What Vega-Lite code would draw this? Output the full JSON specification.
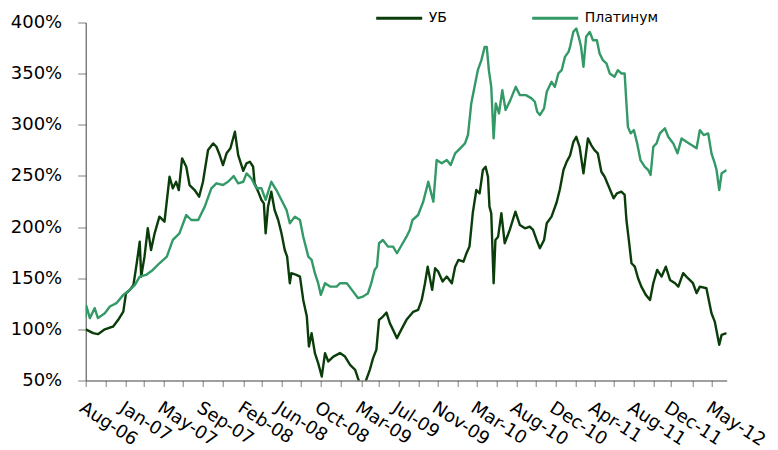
{
  "$schema": "https://vega.github.io/schema/vega-lite/v6.json",
  "width": 641,
  "height": 358,
  "autosize": {"type": "none"},
  "padding": {"left": 85.7, "top": 22.5, "right": 51.3, "bottom": 69.5},
  "config": {
    "view": {"stroke": null},
    "font": "DejaVu Sans"
  },
  "data": {
    "values": [
      {"d":"2006-08-20","s":"УБ","v":100},{"d":"2006-09-14","s":"УБ","v":96.3},{"d":"2006-09-30","s":"УБ","v":95.3},{"d":"2006-10-23","s":"УБ","v":100},{"d":"2006-11-09","s":"УБ","v":101.8},{"d":"2006-11-20","s":"УБ","v":102.7},{"d":"2006-12-07","s":"УБ","v":109.3},{"d":"2006-12-24","s":"УБ","v":117.4},{"d":"2007-01-02","s":"УБ","v":135.3},{"d":"2007-01-15","s":"УБ","v":138.6},{"d":"2007-01-27","s":"УБ","v":143.5},{"d":"2007-02-07","s":"УБ","v":164.6},{"d":"2007-02-17","s":"УБ","v":185.7},{"d":"2007-02-22","s":"УБ","v":151.6},{"d":"2007-03-05","s":"УБ","v":171},{"d":"2007-03-16","s":"УБ","v":198.8},{"d":"2007-03-27","s":"УБ","v":177.6},{"d":"2007-04-08","s":"УБ","v":193.9},{"d":"2007-04-24","s":"УБ","v":210.2},{"d":"2007-05-11","s":"УБ","v":205.3},{"d":"2007-05-28","s":"УБ","v":249.2},{"d":"2007-06-08","s":"УБ","v":237.9},{"d":"2007-06-19","s":"УБ","v":244.3},{"d":"2007-06-28","s":"УБ","v":236.2},{"d":"2007-07-09","s":"УБ","v":267.2},{"d":"2007-07-23","s":"УБ","v":259},{"d":"2007-08-03","s":"УБ","v":241.1},{"d":"2007-08-20","s":"УБ","v":236.2},{"d":"2007-09-04","s":"УБ","v":229.7},{"d":"2007-09-17","s":"УБ","v":244.3},{"d":"2007-10-04","s":"УБ","v":275.3},{"d":"2007-10-21","s":"УБ","v":281.8},{"d":"2007-11-01","s":"УБ","v":278.5},{"d":"2007-11-12","s":"УБ","v":270.4},{"d":"2007-11-23","s":"УБ","v":260.6},{"d":"2007-12-05","s":"УБ","v":272.1},{"d":"2007-12-18","s":"УБ","v":277},{"d":"2008-01-02","s":"УБ","v":293.2},{"d":"2008-01-13","s":"УБ","v":270.4},{"d":"2008-01-30","s":"УБ","v":255},{"d":"2008-02-10","s":"УБ","v":262.3},{"d":"2008-02-21","s":"УБ","v":263.9},{"d":"2008-03-03","s":"УБ","v":259},{"d":"2008-03-08","s":"УБ","v":242.8},{"d":"2008-03-20","s":"УБ","v":234.6},{"d":"2008-03-31","s":"УБ","v":226.5},{"d":"2008-04-08","s":"УБ","v":223.2},{"d":"2008-04-14","s":"УБ","v":193.9},{"d":"2008-04-22","s":"УБ","v":220},{"d":"2008-05-03","s":"УБ","v":234.6},{"d":"2008-05-14","s":"УБ","v":216.7},{"d":"2008-05-26","s":"УБ","v":206.9},{"d":"2008-06-06","s":"УБ","v":193.9},{"d":"2008-06-17","s":"УБ","v":177.6},{"d":"2008-06-25","s":"УБ","v":171.1},{"d":"2008-07-04","s":"УБ","v":145.1},{"d":"2008-07-09","s":"УБ","v":154.9},{"d":"2008-07-26","s":"УБ","v":153.2},{"d":"2008-08-07","s":"УБ","v":151.6},{"d":"2008-08-18","s":"УБ","v":128.8},{"d":"2008-08-30","s":"УБ","v":112.5},{"d":"2008-09-06","s":"УБ","v":83.2},{"d":"2008-09-15","s":"УБ","v":96.3},{"d":"2008-09-26","s":"УБ","v":76.8},{"d":"2008-10-07","s":"УБ","v":67},{"d":"2008-10-19","s":"УБ","v":53.9},{"d":"2008-10-30","s":"УБ","v":76.8},{"d":"2008-11-10","s":"УБ","v":68.6},{"d":"2008-11-27","s":"УБ","v":73.4},{"d":"2008-12-19","s":"УБ","v":76.8},{"d":"2009-01-05","s":"УБ","v":73.4},{"d":"2009-01-22","s":"УБ","v":65.3},{"d":"2009-02-08","s":"УБ","v":60.4},{"d":"2009-02-21","s":"УБ","v":49},{"d":"2009-03-06","s":"УБ","v":44.1},{"d":"2009-03-15","s":"УБ","v":49},{"d":"2009-03-29","s":"УБ","v":60.4},{"d":"2009-04-09","s":"УБ","v":71.9},{"d":"2009-04-20","s":"УБ","v":80},{"d":"2009-04-29","s":"УБ","v":109.3},{"d":"2009-05-12","s":"УБ","v":112.5},{"d":"2009-05-24","s":"УБ","v":116.4},{"d":"2009-06-04","s":"УБ","v":106.1},{"d":"2009-06-15","s":"УБ","v":99.5},{"d":"2009-06-28","s":"УБ","v":91.4},{"d":"2009-07-13","s":"УБ","v":100},{"d":"2009-07-30","s":"УБ","v":109.3},{"d":"2009-08-21","s":"УБ","v":117},{"d":"2009-09-07","s":"УБ","v":119},{"d":"2009-09-19","s":"УБ","v":128.8},{"d":"2009-09-30","s":"УБ","v":145.1},{"d":"2009-10-09","s":"УБ","v":161.3},{"d":"2009-10-24","s":"УБ","v":138.6},{"d":"2009-11-03","s":"УБ","v":159.8},{"d":"2009-11-13","s":"УБ","v":156.5},{"d":"2009-11-28","s":"УБ","v":146.7},{"d":"2009-12-12","s":"УБ","v":151.6},{"d":"2009-12-29","s":"УБ","v":145.1},{"d":"2010-01-09","s":"УБ","v":161.3},{"d":"2010-01-20","s":"УБ","v":167.9},{"d":"2010-02-06","s":"УБ","v":166.2},{"d":"2010-02-16","s":"УБ","v":174.4},{"d":"2010-02-26","s":"УБ","v":180.9},{"d":"2010-03-09","s":"УБ","v":213.5},{"d":"2010-03-21","s":"УБ","v":236.2},{"d":"2010-04-01","s":"УБ","v":233},{"d":"2010-04-12","s":"УБ","v":255.8},{"d":"2010-04-21","s":"УБ","v":259},{"d":"2010-04-29","s":"УБ","v":249.2},{"d":"2010-05-04","s":"УБ","v":220},{"d":"2010-05-10","s":"УБ","v":213.5},{"d":"2010-05-18","s":"УБ","v":145.1},{"d":"2010-05-24","s":"УБ","v":187.4},{"d":"2010-06-02","s":"УБ","v":190.6},{"d":"2010-06-13","s":"УБ","v":213.5},{"d":"2010-06-24","s":"УБ","v":184.2},{"d":"2010-07-11","s":"УБ","v":197.2},{"d":"2010-07-30","s":"УБ","v":215},{"d":"2010-08-14","s":"УБ","v":202},{"d":"2010-08-31","s":"УБ","v":198.8},{"d":"2010-09-16","s":"УБ","v":200.4},{"d":"2010-09-27","s":"УБ","v":197.2},{"d":"2010-10-09","s":"УБ","v":187.4},{"d":"2010-10-20","s":"УБ","v":179.3},{"d":"2010-11-03","s":"УБ","v":187.4},{"d":"2010-11-12","s":"УБ","v":203.7},{"d":"2010-11-28","s":"УБ","v":210.2},{"d":"2010-12-15","s":"УБ","v":224},{"d":"2010-12-26","s":"УБ","v":237},{"d":"2011-01-07","s":"УБ","v":255.8},{"d":"2011-01-18","s":"УБ","v":264},{"d":"2011-01-29","s":"УБ","v":270},{"d":"2011-02-09","s":"УБ","v":283},{"d":"2011-02-19","s":"УБ","v":288.3},{"d":"2011-03-02","s":"УБ","v":278.5},{"d":"2011-03-15","s":"УБ","v":252.5},{"d":"2011-03-30","s":"УБ","v":286.7},{"d":"2011-04-10","s":"УБ","v":280.2},{"d":"2011-04-21","s":"УБ","v":275.3},{"d":"2011-05-02","s":"УБ","v":272.1},{"d":"2011-05-14","s":"УБ","v":254.1},{"d":"2011-05-25","s":"УБ","v":249.2},{"d":"2011-06-08","s":"УБ","v":239.5},{"d":"2011-06-24","s":"УБ","v":228.1},{"d":"2011-07-05","s":"УБ","v":233},{"d":"2011-07-20","s":"УБ","v":234.6},{"d":"2011-07-31","s":"УБ","v":231.4},{"d":"2011-08-06","s":"УБ","v":206.9},{"d":"2011-08-14","s":"УБ","v":187.4},{"d":"2011-08-23","s":"УБ","v":164.6},{"d":"2011-09-03","s":"УБ","v":161.3},{"d":"2011-09-14","s":"УБ","v":150},{"d":"2011-09-25","s":"УБ","v":141.8},{"d":"2011-10-10","s":"УБ","v":133.7},{"d":"2011-10-24","s":"УБ","v":128.8},{"d":"2011-11-04","s":"УБ","v":145.1},{"d":"2011-11-17","s":"УБ","v":158.1},{"d":"2011-12-02","s":"УБ","v":151.6},{"d":"2011-12-16","s":"УБ","v":161.3},{"d":"2011-12-30","s":"УБ","v":148.3},{"d":"2012-01-16","s":"УБ","v":145.1},{"d":"2012-01-27","s":"УБ","v":141.8},{"d":"2012-02-12","s":"УБ","v":154.9},{"d":"2012-02-28","s":"УБ","v":150},{"d":"2012-03-16","s":"УБ","v":145.1},{"d":"2012-03-28","s":"УБ","v":135.4},{"d":"2012-04-08","s":"УБ","v":141.8},{"d":"2012-04-30","s":"УБ","v":140.2},{"d":"2012-05-17","s":"УБ","v":115.8},{"d":"2012-05-28","s":"УБ","v":107.6},{"d":"2012-06-12","s":"УБ","v":84.9},{"d":"2012-06-20","s":"УБ","v":94.6},{"d":"2012-07-07","s":"УБ","v":96.3},
      {"d":"2006-08-20","s":"Платинум","v":112},{"d":"2006-08-22","s":"Платинум","v":123},{"d":"2006-09-03","s":"Платинум","v":111},{"d":"2006-09-19","s":"Платинум","v":120.7},{"d":"2006-09-30","s":"Платинум","v":111},{"d":"2006-10-23","s":"Платинум","v":115.8},{"d":"2006-11-09","s":"Платинум","v":122.3},{"d":"2006-12-01","s":"Платинум","v":125.6},{"d":"2006-12-24","s":"Платинум","v":133.7},{"d":"2007-01-15","s":"Платинум","v":138.6},{"d":"2007-02-01","s":"Платинум","v":143.5},{"d":"2007-02-17","s":"Платинум","v":151.6},{"d":"2007-03-10","s":"Платинум","v":153.2},{"d":"2007-04-02","s":"Платинум","v":158.1},{"d":"2007-04-24","s":"Платинум","v":164.6},{"d":"2007-05-19","s":"Платинум","v":171.1},{"d":"2007-06-08","s":"Платинум","v":187.4},{"d":"2007-06-30","s":"Платинум","v":193.9},{"d":"2007-07-23","s":"Платинум","v":211.8},{"d":"2007-08-09","s":"Платинум","v":206.9},{"d":"2007-09-01","s":"Платинум","v":206.9},{"d":"2007-09-23","s":"Платинум","v":220},{"d":"2007-10-15","s":"Платинум","v":237.9},{"d":"2007-11-01","s":"Платинум","v":242.8},{"d":"2007-11-23","s":"Платинум","v":241.1},{"d":"2007-12-10","s":"Платинум","v":244.3},{"d":"2007-12-29","s":"Платинум","v":249.9},{"d":"2008-01-13","s":"Платинум","v":242.8},{"d":"2008-01-30","s":"Платинум","v":244.3},{"d":"2008-02-10","s":"Платинум","v":252.5},{"d":"2008-02-26","s":"Платинум","v":247.7},{"d":"2008-03-14","s":"Платинум","v":237.9},{"d":"2008-03-31","s":"Платинум","v":237.9},{"d":"2008-04-14","s":"Платинум","v":226.5},{"d":"2008-05-03","s":"Платинум","v":244.3},{"d":"2008-05-20","s":"Платинум","v":236.2},{"d":"2008-06-06","s":"Платинум","v":226.5},{"d":"2008-06-23","s":"Платинум","v":216.7},{"d":"2008-07-04","s":"Платинум","v":203.7},{"d":"2008-07-21","s":"Платинум","v":210.2},{"d":"2008-08-07","s":"Платинум","v":206.9},{"d":"2008-08-18","s":"Платинум","v":190.6},{"d":"2008-09-04","s":"Платинум","v":171.1},{"d":"2008-09-15","s":"Платинум","v":167.9},{"d":"2008-09-26","s":"Платинум","v":154.9},{"d":"2008-10-07","s":"Платинум","v":145.1},{"d":"2008-10-16","s":"Платинум","v":133.7},{"d":"2008-10-30","s":"Платинум","v":145.1},{"d":"2008-11-16","s":"Платинум","v":141.8},{"d":"2008-12-08","s":"Платинум","v":141.8},{"d":"2008-12-19","s":"Платинум","v":145.1},{"d":"2009-01-11","s":"Платинум","v":145.1},{"d":"2009-01-28","s":"Платинум","v":138.6},{"d":"2009-02-18","s":"Платинум","v":130.5},{"d":"2009-03-06","s":"Платинум","v":132},{"d":"2009-03-23","s":"Платинум","v":135.4},{"d":"2009-04-03","s":"Платинум","v":145.1},{"d":"2009-04-14","s":"Платинум","v":158.1},{"d":"2009-04-22","s":"Платинум","v":161.3},{"d":"2009-04-29","s":"Платинум","v":184.2},{"d":"2009-05-12","s":"Платинум","v":187.4},{"d":"2009-05-29","s":"Платинум","v":180.9},{"d":"2009-06-15","s":"Платинум","v":180.9},{"d":"2009-06-28","s":"Платинум","v":174.4},{"d":"2009-07-13","s":"Платинум","v":182},{"d":"2009-07-30","s":"Платинум","v":190.6},{"d":"2009-08-10","s":"Платинум","v":197.2},{"d":"2009-08-19","s":"Платинум","v":206.9},{"d":"2009-09-07","s":"Платинум","v":211.8},{"d":"2009-09-24","s":"Платинум","v":224.8},{"d":"2009-10-11","s":"Платинум","v":244.3},{"d":"2009-10-28","s":"Платинум","v":224.8},{"d":"2009-11-08","s":"Платинум","v":265.5},{"d":"2009-11-25","s":"Платинум","v":262.3},{"d":"2009-12-12","s":"Платинум","v":265.5},{"d":"2009-12-25","s":"Платинум","v":260.6},{"d":"2010-01-09","s":"Платинум","v":272.1},{"d":"2010-01-26","s":"Платинум","v":277},{"d":"2010-02-11","s":"Платинум","v":281.8},{"d":"2010-02-21","s":"Платинум","v":290},{"d":"2010-03-04","s":"Платинум","v":320.9},{"d":"2010-03-15","s":"Платинум","v":337.1},{"d":"2010-03-26","s":"Платинум","v":353.4},{"d":"2010-04-07","s":"Платинум","v":363.2},{"d":"2010-04-18","s":"Платинум","v":376.2},{"d":"2010-04-25","s":"Платинум","v":376.2},{"d":"2010-05-02","s":"Платинум","v":353.4},{"d":"2010-05-10","s":"Платинум","v":337.1},{"d":"2010-05-18","s":"Платинум","v":286.7},{"d":"2010-05-25","s":"Платинум","v":320.9},{"d":"2010-06-05","s":"Платинум","v":311.1},{"d":"2010-06-16","s":"Платинум","v":333.9},{"d":"2010-06-27","s":"Платинум","v":314.4},{"d":"2010-07-13","s":"Платинум","v":324.1},{"d":"2010-07-31","s":"Платинум","v":337.1},{"d":"2010-08-14","s":"Платинум","v":329},{"d":"2010-09-03","s":"Платинум","v":329},{"d":"2010-09-22","s":"Платинум","v":325.8},{"d":"2010-10-03","s":"Платинум","v":322.5},{"d":"2010-10-11","s":"Платинум","v":312.7},{"d":"2010-10-20","s":"Платинум","v":309.5},{"d":"2010-11-03","s":"Платинум","v":316},{"d":"2010-11-12","s":"Платинум","v":332.3},{"d":"2010-11-28","s":"Платинум","v":342},{"d":"2010-12-09","s":"Платинум","v":337.1},{"d":"2010-12-21","s":"Платинум","v":350.2},{"d":"2011-01-01","s":"Платинум","v":353.4},{"d":"2011-01-12","s":"Платинум","v":366.4},{"d":"2011-01-24","s":"Платинум","v":371.3},{"d":"2011-01-29","s":"Платинум","v":376.2},{"d":"2011-02-09","s":"Платинум","v":390.8},{"d":"2011-02-19","s":"Платинум","v":394.1},{"d":"2011-02-27","s":"Платинум","v":386},{"d":"2011-03-07","s":"Платинум","v":376.2},{"d":"2011-03-15","s":"Платинум","v":356.7},{"d":"2011-03-24","s":"Платинум","v":386},{"d":"2011-04-05","s":"Платинум","v":390.8},{"d":"2011-04-16","s":"Платинум","v":382.7},{"d":"2011-04-29","s":"Платинум","v":382.7},{"d":"2011-05-08","s":"Платинум","v":369.7},{"d":"2011-05-19","s":"Платинум","v":363.2},{"d":"2011-05-31","s":"Платинум","v":360},{"d":"2011-06-11","s":"Платинум","v":350.2},{"d":"2011-06-27","s":"Платинум","v":346.9},{"d":"2011-07-08","s":"Платинум","v":353.4},{"d":"2011-07-20","s":"Платинум","v":350.2},{"d":"2011-07-31","s":"Платинум","v":350.2},{"d":"2011-08-06","s":"Платинум","v":320.9},{"d":"2011-08-11","s":"Платинум","v":298},{"d":"2011-08-20","s":"Платинум","v":291.6},{"d":"2011-08-31","s":"Платинум","v":294.8},{"d":"2011-09-11","s":"Платинум","v":281.8},{"d":"2011-09-22","s":"Платинум","v":265.5},{"d":"2011-10-06","s":"Платинум","v":259},{"d":"2011-10-18","s":"Платинум","v":255.8},{"d":"2011-10-26","s":"Платинум","v":250.9},{"d":"2011-11-04","s":"Платинум","v":278.5},{"d":"2011-11-15","s":"Платинум","v":281.8},{"d":"2011-11-26","s":"Платинум","v":291.6},{"d":"2011-12-13","s":"Платинум","v":296.5},{"d":"2011-12-24","s":"Платинум","v":288.3},{"d":"2012-01-10","s":"Платинум","v":281.8},{"d":"2012-01-24","s":"Платинум","v":272.1},{"d":"2012-02-07","s":"Платинум","v":286.7},{"d":"2012-02-23","s":"Платинум","v":283.4},{"d":"2012-03-11","s":"Платинум","v":280.2},{"d":"2012-03-28","s":"Платинум","v":277},{"d":"2012-04-08","s":"Платинум","v":294.8},{"d":"2012-04-21","s":"Платинум","v":289.9},{"d":"2012-05-06","s":"Платинум","v":291.6},{"d":"2012-05-17","s":"Платинум","v":272.1},{"d":"2012-05-28","s":"Платинум","v":262.3},{"d":"2012-06-03","s":"Платинум","v":255.8},{"d":"2012-06-12","s":"Платинум","v":236.2},{"d":"2012-06-20","s":"Платинум","v":252.5},{"d":"2012-07-07","s":"Платинум","v":255.8}
    ]
  },
  "mark": {"type": "line", "strokeWidth": 2.4, "clip": true, "strokeJoin": "round"},
  "encoding": {
    "x": {
      "field": "d",
      "type": "temporal",
      "scale": {
        "type": "utc",
        "nice": false,
        "domain": [{"year": 2006, "month": 8, "date": 20, "utc": true}, {"year": 2012, "month": 7, "date": 7, "utc": true}]
      },
      "axis": {
        "title": null,
        "grid": false,
        "values": [
          {"year": 2006, "month": 8, "date": 20, "utc": true},
          {"year": 2006, "month": 10, "date": 24, "hours": 12, "utc": true},
          {"year": 2007, "month": 1, "date": 1, "utc": true},
          {"year": 2007, "month": 3, "date": 3, "hours": 12, "utc": true},
          {"year": 2007, "month": 5, "date": 8, "utc": true},
          {"year": 2007, "month": 7, "date": 12, "hours": 12, "utc": true},
          {"year": 2007, "month": 9, "date": 17, "utc": true},
          {"year": 2007, "month": 11, "date": 21, "hours": 12, "utc": true},
          {"year": 2008, "month": 2, "date": 1, "utc": true},
          {"year": 2008, "month": 4, "date": 1, "hours": 12, "utc": true},
          {"year": 2008, "month": 6, "date": 6, "utc": true},
          {"year": 2008, "month": 8, "date": 10, "hours": 12, "utc": true},
          {"year": 2008, "month": 10, "date": 15, "utc": true},
          {"year": 2008, "month": 12, "date": 20, "hours": 12, "utc": true},
          {"year": 2009, "month": 3, "date": 1, "utc": true},
          {"year": 2009, "month": 4, "date": 29, "hours": 12, "utc": true},
          {"year": 2009, "month": 7, "date": 4, "utc": true},
          {"year": 2009, "month": 9, "date": 8, "hours": 12, "utc": true},
          {"year": 2009, "month": 11, "date": 13, "utc": true},
          {"year": 2010, "month": 1, "date": 18, "hours": 12, "utc": true},
          {"year": 2010, "month": 3, "date": 23, "utc": true},
          {"year": 2010, "month": 5, "date": 28, "hours": 12, "utc": true},
          {"year": 2010, "month": 8, "date": 2, "utc": true},
          {"year": 2010, "month": 10, "date": 7, "hours": 12, "utc": true},
          {"year": 2010, "month": 12, "date": 12, "utc": true},
          {"year": 2011, "month": 2, "date": 15, "hours": 12, "utc": true},
          {"year": 2011, "month": 4, "date": 21, "utc": true},
          {"year": 2011, "month": 6, "date": 25, "hours": 12, "utc": true},
          {"year": 2011, "month": 8, "date": 31, "utc": true},
          {"year": 2011, "month": 11, "date": 4, "hours": 12, "utc": true},
          {"year": 2011, "month": 12, "date": 31, "utc": true},
          {"year": 2012, "month": 3, "date": 14, "hours": 12, "utc": true},
          {"year": 2012, "month": 5, "date": 19, "utc": true}
        ],
        "labelExpr": "utchours(datum.value) == 12 ? '' : utcFormat(datum.value, '%b-%y')",
        "labelAngle": 33,
        "labelAlign": "left",
        "labelBaseline": "top",
        "labelPadding": 12,
        "labelOverlap": false,
        "labelFlush": false,
        "labelBound": false,
        "labelFont": "DejaVu Sans",
        "labelFontSize": 18,
        "labelColor": "#000000",
        "tickSize": 6,
        "tickColor": "#808080",
        "tickWidth": 1,
        "domainColor": "#404040",
        "domainWidth": 1
      }
    },
    "y": {
      "field": "v",
      "type": "quantitative",
      "scale": {"domain": [50, 400], "nice": false, "zero": false},
      "axis": {
        "title": null,
        "grid": false,
        "values": [50, 100, 150, 200, 250, 300, 350, 400],
        "labelExpr": "datum.value + '%'",
        "labelFont": "DejaVu Sans",
        "labelFontSize": 18,
        "labelColor": "#000000",
        "labelPadding": 16,
        "tickSize": 8,
        "tickColor": "#808080",
        "domainColor": "#404040",
        "domainWidth": 1
      }
    },
    "color": {
      "field": "s",
      "type": "nominal",
      "scale": {"domain": ["УБ", "Платинум"], "range": ["#0b3d0b", "#339966"]},
      "legend": {
        "title": null,
        "orient": "none",
        "legendX": 289,
        "legendY": -29,
        "direction": "horizontal",
        "symbolType": "stroke",
        "symbolSize": 2116,
        "symbolStrokeWidth": 3,
        "labelFont": "DejaVu Sans",
        "labelFontSize": 14,
        "labelColor": "#000000",
        "labelOffset": 5,
        "columnPadding": 78
      }
    }
  }
}
